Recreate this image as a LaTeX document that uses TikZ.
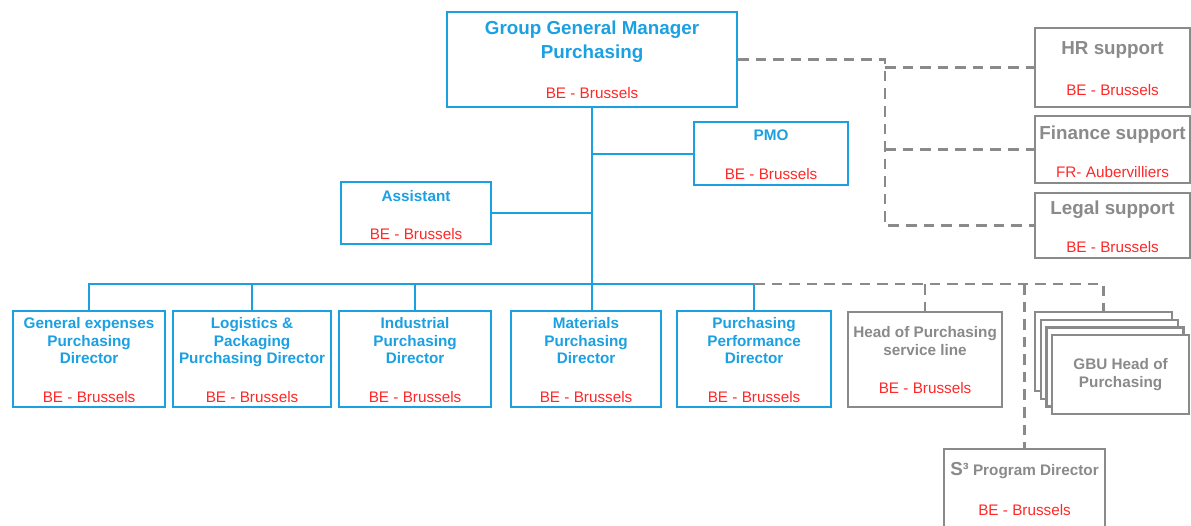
\documentclass[tikz,border=0pt]{standalone}
\usepackage{fontspec}
\setmainfont{Liberation Sans}
\usepackage{tikz}

\definecolor{unitblue}{RGB}{27,160,226}
\definecolor{supportgray}{RGB}{138,138,138}
\definecolor{sitered}{RGB}{255,40,40}

\begin{document}
\begin{tikzpicture}[x=0.02cm, y=-0.02cm,
  box/.style={draw=#1, line width=1.25pt, fill=white, anchor=north west, inner sep=0pt},
  jobtitle/.style={anchor=north, align=center, inner sep=#1, text=unitblue,
    font=\bfseries\fontsize{8.7}{10}\selectfont},
  jobtitle/.default=4.2pt,
  big/.style={font=\bfseries\fontsize{10.7}{13.6}\selectfont},
  site/.style={anchor=south, inner sep=#1, text=sitered, font=\fontsize{8.7}{10}\selectfont},
  site/.default=3.1pt,
  link/.style={draw=unitblue, line width=1.25pt},
  dashlink/.style={draw=supportgray, line width=1.4pt, dash pattern=on 6pt off 4pt}]
\clip (0,0) rectangle (1191,525);

% top of the chart
\node[box=unitblue, minimum width=5.8cm, minimum height=1.9cm,
  label={[jobtitle=5.6pt, big]north:{Group General Manager\\Purchasing}},
  label={[site=5.4pt]south:BE - Brussels}] (ggm) at (446,11) {};
\node[box=unitblue, minimum width=3.08cm, minimum height=1.26cm,
  label={[jobtitle=4.8pt]north:PMO},
  label={[site=3.7pt]south:BE - Brussels}] (pmo) at (693,121) {};
\node[box=unitblue, minimum width=3cm, minimum height=1.24cm,
  label={[jobtitle=5.4pt]north:Assistant},
  label={[site]south:BE - Brussels}] (assistant) at (340,181) {};

% support functions
\node[box=supportgray, minimum width=3.1cm, minimum height=1.58cm,
  label={[jobtitle=8.3pt, big, text=supportgray]north:HR support},
  label={[site=7.1pt]south:BE - Brussels}] (hr) at (1034,27) {};
\node[box=supportgray, minimum width=3.1cm, minimum height=1.34cm,
  label={[jobtitle=5.8pt, big, text=supportgray]north:Finance support},
  label={[site=3.7pt]south:FR- Aubervilliers}] (finance) at (1034,115) {};
\node[box=supportgray, minimum width=3.1cm, minimum height=1.3cm,
  label={[jobtitle=4.7pt, big, text=supportgray]north:Legal support},
  label={[site=3.7pt]south:BE - Brussels}] (legal) at (1034,192) {};

% directors
\node[box=unitblue, minimum width=3.04cm, minimum height=1.92cm,
  label={[jobtitle]north:{General expenses\\Purchasing\\Director}},
  label={[site]south:BE - Brussels}] (genexp) at (12,310) {};
\node[box=unitblue, minimum width=3.16cm, minimum height=1.92cm,
  label={[jobtitle]north:{Logistics \&\\Packaging\\Purchasing Director}},
  label={[site]south:BE - Brussels}] (logpack) at (172,310) {};
\node[box=unitblue, minimum width=3.04cm, minimum height=1.92cm,
  label={[jobtitle]north:{Industrial\\Purchasing\\Director}},
  label={[site]south:BE - Brussels}] (indus) at (338,310) {};
\node[box=unitblue, minimum width=3cm, minimum height=1.92cm,
  label={[jobtitle]north:{Materials\\Purchasing\\Director}},
  label={[site]south:BE - Brussels}] (matpur) at (510,310) {};
\node[box=unitblue, minimum width=3.08cm, minimum height=1.92cm,
  label={[jobtitle]north:{Purchasing\\Performance\\Director}},
  label={[site]south:BE - Brussels}] (perf) at (676,310) {};

\node[box=supportgray, minimum width=3.08cm, minimum height=1.9cm,
  label={[jobtitle=8.6pt, text=supportgray]north:{Head of Purchasing\\service line}},
  label={[site=8.2pt]south:BE - Brussels}] (hop) at (847,311) {};
\foreach \i in {0,1,2}
  \node[box=supportgray, minimum width=2.74cm, minimum height=1.58cm]
    (gbu\i) at (1034+5.7*\i,311+7.7*\i) {};
\node[box=supportgray, minimum width=2.74cm, minimum height=1.58cm, align=center,
  text=supportgray, font=\bfseries\fontsize{8.7}{10}\selectfont]
  (gbu) at (1051,334) {GBU Head of\\Purchasing};
\node[box=supportgray, minimum width=3.22cm, minimum height=1.7cm,
  label={[jobtitle=7.9pt, text=supportgray]north:{{\fontsize{10.7}{13}\selectfont S}{\fontsize{10}{12}\selectfont³} Program Director}},
  label={[site=11pt]south:BE - Brussels}] (sprog) at (943,448) {};

% reporting lines
\coordinate (bus) at (592,284);
\coordinate (spine) at (885,0);
\draw[link] (ggm.south) -- (ggm.south |- matpur.north);
\draw[link] (pmo.west) -- (pmo.west -| ggm.south);
\draw[link] (assistant.east) -- (assistant.east -| ggm.south);
\draw[link] (genexp.north) -- (bus -| genexp.north) -- (bus -| perf.north) -- (perf.north);
\foreach \n in {logpack,indus}
  \draw[link] (\n.north) -- (bus -| \n.north);

\draw[dashlink] (bus -| perf.north) -- (bus -| gbu0.north) -- (gbu0.north);
\draw[dashlink] (bus -| hop.north) -- (hop.north);
\draw[dashlink] (bus -| sprog.north) -- (sprog.north);
\draw[dashlink] (ggm.east) -- (ggm.east -| spine) -- (spine |- legal.west) -- (legal.west);
\foreach \n in {hr,finance}
  \draw[dashlink] (spine |- \n.west) -- (\n.west);
\end{tikzpicture}
\end{document}
